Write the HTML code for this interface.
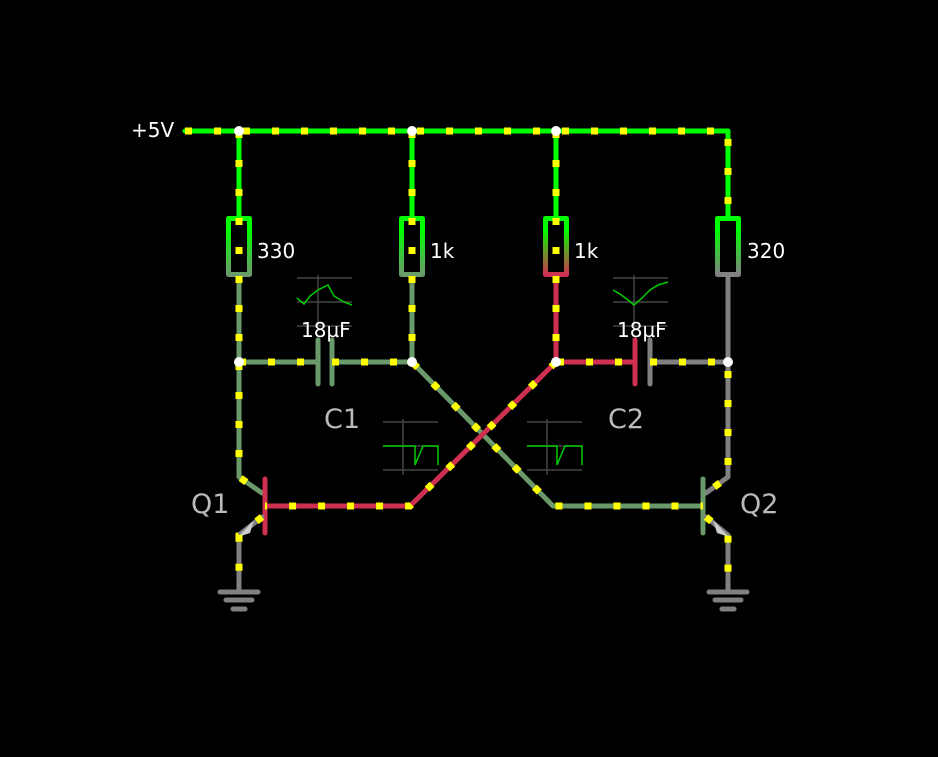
<!DOCTYPE html>
<html><head><meta charset="utf-8"><style>
html,body{margin:0;padding:0;background:#000;}
svg{display:block;font-family:"DejaVu Sans","Liberation Sans",sans-serif;}
</style></head><body>
<svg width="938" height="757" viewBox="0 0 938 757" xmlns="http://www.w3.org/2000/svg">
<defs>
<linearGradient id="gR1" x1="0" y1="0" x2="0" y2="1"><stop offset="0.2" stop-color="#00ff00"/><stop offset="1" stop-color="#6a9a6a"/></linearGradient>
<linearGradient id="gR3" x1="0" y1="0" x2="0" y2="1"><stop offset="0.2" stop-color="#00ff00"/><stop offset="1" stop-color="#d03050"/></linearGradient>
<linearGradient id="gR4" x1="0" y1="0" x2="0" y2="1"><stop offset="0.2" stop-color="#00ff00"/><stop offset="1" stop-color="#808080"/></linearGradient>
</defs>
<g fill="none" stroke-width="5" stroke-linecap="round" stroke-linejoin="round">
<path d="M185 131 H728 V217 M239 131 V217 M412 131 V217 M556 131 V217" stroke="#00ff00"/>
<rect x="228.5" y="218.5" width="21" height="56" stroke="url(#gR1)"/>
<rect x="401.5" y="218.5" width="21" height="56" stroke="url(#gR1)"/>
<rect x="545.5" y="218.5" width="21" height="56" stroke="url(#gR3)"/>
<rect x="717.5" y="218.5" width="21" height="56" stroke="url(#gR4)"/>
<path d="M239 275 V477 L262 493 M239 362 H318 M332 362 H412 M412 275 V362 L553 506 H703" stroke="#6a9a6a"/>
<path d="M318 340 V384 M332 340 V384" stroke="#6a9a6a"/>
<path d="M556 275 V362 H635 M556 362 L410 506 H265" stroke="#d03050"/>
<path d="M635 340 V384" stroke="#d03050"/>
<path d="M265 479 V533" stroke="#d03050"/>
<path d="M728 275 V477 L706 493 M650 362 H728 M650 340 V384" stroke="#808080"/>
<path d="M703 479 V533" stroke="#6a9a6a"/>
<path d="M262 517 L239 535 V592 M706 517 L728 535 V592" stroke="#808080"/>
<path d="M220 592 H258 M226 600 H252 M233 609 H245 M709 592 H747 M715 600 H741 M722 609 H734" stroke="#808080"/>
</g>
<polygon points="238,537 254,520 250,533" fill="#ccc"/>
<polygon points="729,537 713,520 717,533" fill="#ccc"/>
<g fill="none" stroke="#ffff00" stroke-width="7" stroke-dasharray="7 22">
<path d="M185 131 H728 V217"/>
<path d="M239 131 V477 L262 493"/>
<path d="M412 131 V362 L553 506 H703"/>
<path d="M556 131 V362 H635"/>
<path d="M556 362 L410 506 H265"/>
<path d="M239 362 H318 M332 362 H412"/>
<path d="M650 362 H728 V477 L706 493"/>
<path d="M262 517 L239 535 V592 M706 517 L728 535 V592"/>
</g>
<g fill="#fff"><circle cx="239" cy="131" r="5"/><circle cx="412" cy="131" r="5"/><circle cx="556" cy="131" r="5"/><circle cx="239" cy="362" r="5"/><circle cx="412" cy="362" r="5"/><circle cx="556" cy="362" r="5"/><circle cx="728" cy="362" r="5"/></g>
<g stroke="#444" stroke-width="1.5" fill="none">
<path d="M297 278 H352 M297 302 H352 M297 326 H352 M318 275 V330"/>
<path d="M613 278 H668 M613 302 H668 M613 326 H668 M634 275 V330"/>
<path d="M383 422 H438 M383 446 H438 M383 470 H438 M403 419 V475"/>
<path d="M527 422 H582 M527 446 H582 M527 470 H582 M547 419 V475"/>
</g>
<g stroke="#00cc00" stroke-width="1.5" fill="none">
<path d="M297 298 L304 304 L310 296 L318 290 L328 285 L334 296 L344 302 L352 305"/>
<path d="M613 290 L620 294 L628 300 L634 305 L642 298 L650 290 L658 285 L668 282"/>
<path d="M383 446 H415 L415 465 L423 446 H438 V465"/>
<path d="M527 446 H557 L557 465 L565 446 H582 V465"/>
</g>
<g fill="#fff" font-size="20">
<text x="131" y="137">+5V</text>
<text x="257" y="258">330</text>
<text x="430" y="258">1k</text>
<text x="574" y="258">1k</text>
<text x="747" y="258">320</text>
<text x="301" y="337">18µF</text>
<text x="617" y="337">18µF</text>
</g>
<g fill="#bbb" font-size="27">
<text x="324" y="428">C1</text>
<text x="608" y="428">C2</text>
<text x="191" y="513">Q1</text>
<text x="740" y="513">Q2</text>
</g>
</svg>
</body></html>
